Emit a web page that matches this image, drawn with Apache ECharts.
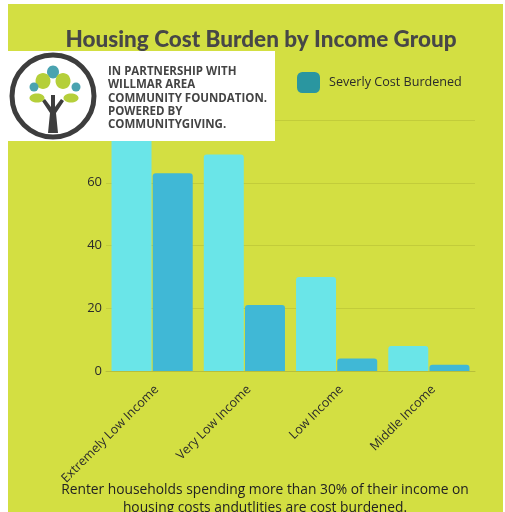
<!DOCTYPE html>
<html>
<head>
<meta charset="utf-8">
<script src="https://cdn.jsdelivr.net/npm/echarts@6/dist/echarts.min.js"></script>
<style>
html,body{margin:0;padding:0;background:#fff;}
#c{width:505px;height:512px;}
</style>
</head>
<body>
<div id="c"></div>
<script>
const categories = ['Extremely Low Income', 'Very Low Income', 'Low Income', 'Middle Income'];
const costBurdened = [77, 69, 30, 8];
const severelyCostBurdened = [63, 21, 4, 2];
const yTicks = [0, 20, 40, 60, 80];
const titleText = 'Housing Cost Burden by Income Group';
const logoLines = ['IN PARTNERSHIP WITH', 'WILLMAR AREA', 'COMMUNITY FOUNDATION.', 'POWERED BY', 'COMMUNITYGIVING.'];
const captionLines = ['Renter households spending more than 30% of their income on', 'housing costs andutlities are cost burdened.'];

const chart = echarts.init(document.getElementById('c'));
const dark = '#3d3d3d';
const leafGreen = '#b5cf3a';
const leafTeal = '#4aa3b0';

const logoGraphics = [
  {type:'rect', shape:{x:8,y:51,width:267,height:90}, style:{fill:'#ffffff'}, z:100},
  {type:'circle', shape:{cx:53,cy:96,r:41}, style:{fill:'none',stroke:dark,lineWidth:5}, z:101},
  // trunk
  {type:'polygon', shape:{points:[[48,133],[58,133],[56,113],[64,101],[61,99],[55,107],[55,95],[51,95],[51,107],[45,99],[42,101],[50,113]]}, style:{fill:dark}, z:102},
  // leaves
  {type:'ellipse', shape:{cx:53,cy:72,rx:6,ry:6.5}, style:{fill:leafTeal}, z:102},
  {type:'ellipse', shape:{cx:43,cy:81,rx:7.5,ry:8}, style:{fill:leafGreen}, z:102},
  {type:'ellipse', shape:{cx:63,cy:81,rx:7.5,ry:8}, style:{fill:leafGreen}, z:102},
  {type:'circle', shape:{cx:34,cy:87,r:4.5}, style:{fill:leafTeal}, z:102},
  {type:'circle', shape:{cx:76,cy:87,r:4.5}, style:{fill:leafTeal}, z:102},
  {type:'ellipse', shape:{cx:37,cy:98,rx:7.5,ry:4.5}, style:{fill:leafGreen}, z:102},
  {type:'ellipse', shape:{cx:71,cy:98,rx:7.5,ry:4.5}, style:{fill:leafGreen}, z:102}
];
logoLines.forEach((t, i) => {
  logoGraphics.push({type:'text', left:108, top:66 + i*13.2, z:103,
    style:{text:t, fill:'#444444', font:'bold 11.5px "Open Sans", sans-serif'}});
});
captionLines.forEach((t, i) => {
  logoGraphics.push({type:'text', x:265, y:490 + i*18, z:103,
    style:{text:t, fill:'#222', font:'13.8px "Open Sans", sans-serif', textAlign:'center', textVerticalAlign:'middle'}});
});
logoGraphics.push({type:'text', x:261, y:40, z:50,
  style:{text:titleText, fill:'#474747', font:'900 22.5px Lato, sans-serif', textAlign:'center', textVerticalAlign:'middle'}});

chart.setOption({
  backgroundColor: '#ffffff',
  legend: {
    left: 297, top: 72, padding: 0, itemWidth: 23, itemHeight: 21, itemGap: 9,
    data: [{name:'Severly Cost Burdened', itemStyle:{color:'#2a96a0'}}],
    textStyle: {color:'#2b2b2b', fontSize:12.6, fontFamily:'Open Sans', padding:[0,0,0,4]}
  },
  grid: {left: 106, right: 30, top: 120, bottom: 141},
  xAxis: {
    type: 'category', data: categories,
    axisLine: {lineStyle:{color:'#b7bf3a'}},
    axisTick: {show:false},
    axisLabel: {rotate:45, color:'#2b2b2b', fontSize:12.5, fontFamily:'Open Sans', margin:12, verticalAlign:'top'}
  },
  yAxis: {
    type: 'value', min: yTicks[0], max: yTicks[yTicks.length-1], interval: 20,
    axisLabel: {
      color:'#2b2b2b', fontSize:13, fontFamily:'Open Sans', margin:4,
      formatter: v => (yTicks.includes(v) && v !== 80) ? String(v) : ''
    },
    splitLine: {lineStyle:{color:'#c2cc3a', width:1}}
  },
  series: [
    {name:'Cost Burdened', type:'bar', data: costBurdened, barWidth:40, barGap:'3%',
     itemStyle:{color:'#6ae5e8', borderRadius:[3,3,0,0]}},
    {name:'Severly Cost Burdened', type:'bar', data: severelyCostBurdened, barWidth:40,
     itemStyle:{color:'#40b8d6', borderRadius:[3,3,0,0]}}
  ],
  graphic: [
    {type:'rect', shape:{x:8,y:4,width:495,height:508}, style:{fill:'#d3df42'}, z:-10, silent:true}
  ].concat(logoGraphics)
});
</script>
</body>
</html>
